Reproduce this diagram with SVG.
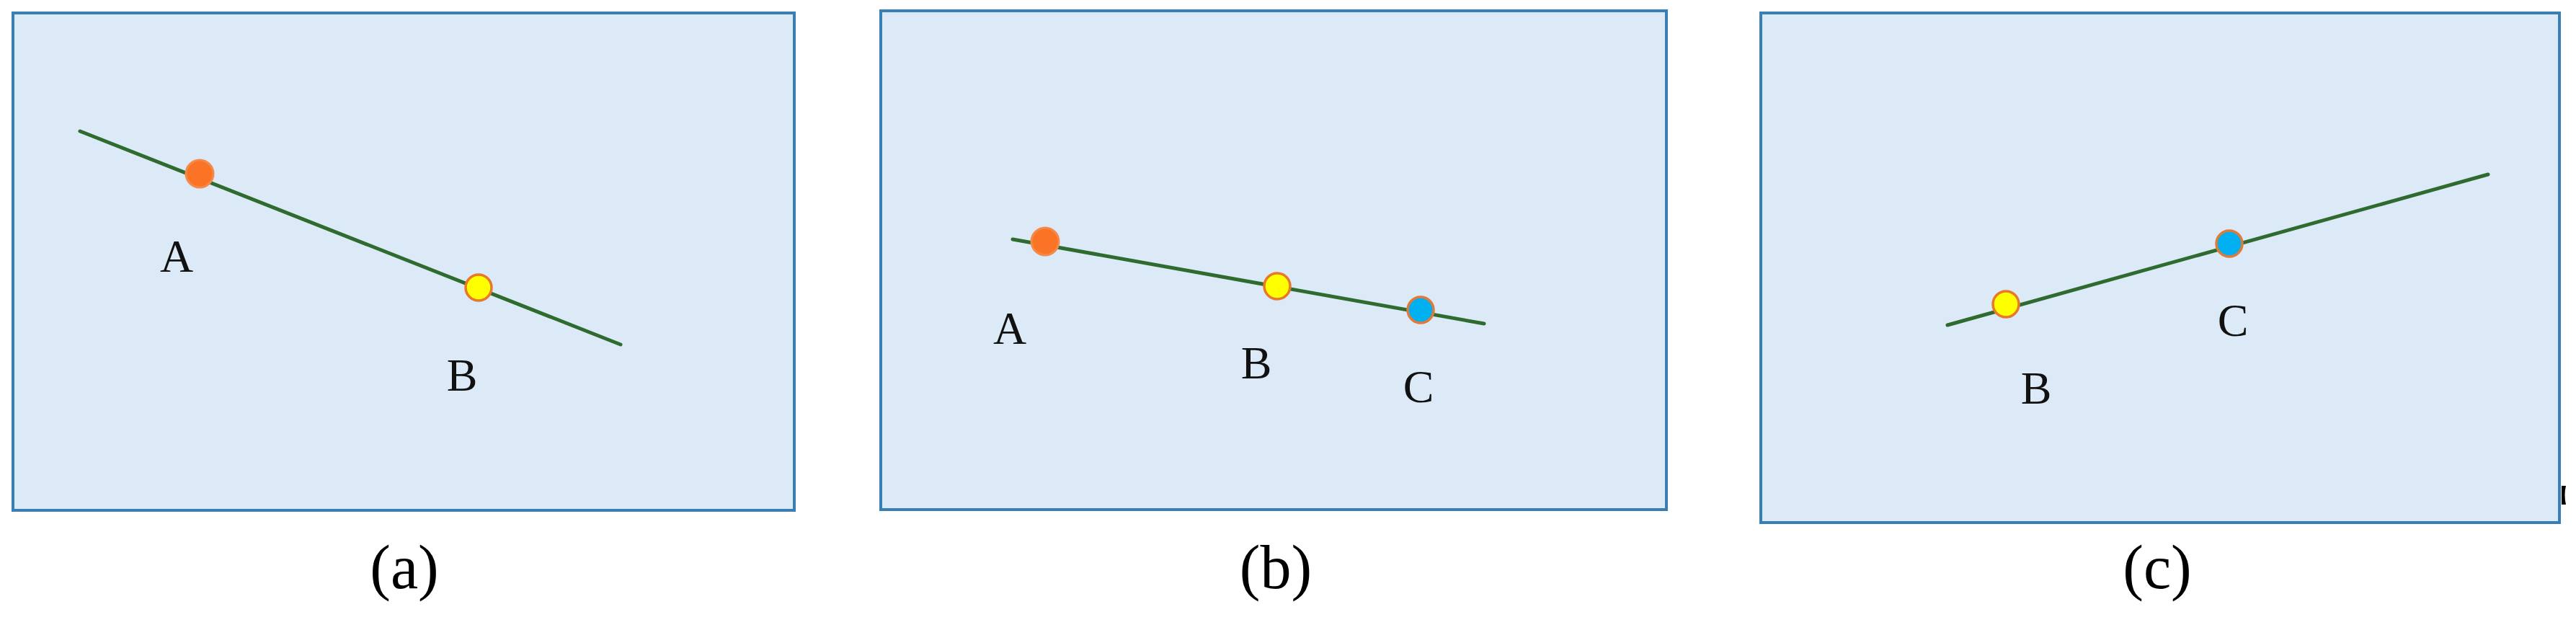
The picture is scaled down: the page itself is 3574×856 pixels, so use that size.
<svg xmlns="http://www.w3.org/2000/svg" width="3574" height="856" viewBox="0 0 3574 856">
<style>
.panel{fill:#dbeaf6;stroke:#3a7fb3;stroke-width:4}
.ln{stroke:#2f6a2f;stroke-width:5;stroke-linecap:round;fill:none}
.pA{fill:#fb7426;stroke:#f5894a;stroke-width:3}
.pB{fill:#ffff00;stroke:#e8782a;stroke-width:3.5}
.pC{fill:#00b0f0;stroke:#e07a3a;stroke-width:3.5}
.lbl{font-family:"Liberation Serif",serif;font-size:64px;fill:#111;text-anchor:middle}
.cap{font-family:"Liberation Serif",serif;font-size:86px;fill:#000;text-anchor:middle}
</style>
<rect width="3574" height="856" fill="#ffffff"/>
<g id="panel-a">
<rect class="panel" x="18" y="18" width="1084" height="690"/>
</g>
<g id="panel-b">
<rect class="panel" x="1222" y="15" width="1090" height="692"/>
</g>
<g id="panel-c">
<rect class="panel" x="2443" y="18" width="1108" height="707"/>
</g>
<g id="connectors">
<line class="ln" x1="111" y1="182" x2="861" y2="478"/>
<line class="ln" x1="1405" y1="332" x2="2059" y2="449"/>
<line class="ln" x1="2702" y1="451" x2="3452" y2="242"/>
</g>
<g id="a-A"><circle class="pA" cx="277" cy="241" r="19"/><text class="lbl" x="245" y="377">A</text></g>
<g id="a-B"><circle class="pB" cx="664" cy="399" r="18"/><text class="lbl" x="641" y="542">B</text></g>
<g id="b-A"><circle class="pA" cx="1450" cy="335" r="19"/><text class="lbl" x="1401" y="477">A</text></g>
<g id="b-B"><circle class="pB" cx="1772" cy="397" r="18"/><text class="lbl" x="1743" y="525">B</text></g>
<g id="b-C"><circle class="pC" cx="1971" cy="430" r="18"/><text class="lbl" x="1968" y="558">C</text></g>
<g id="c-B"><circle class="pB" cx="2783" cy="422" r="18"/><text class="lbl" x="2825" y="560">B</text></g>
<g id="c-C"><circle class="pC" cx="3093" cy="338" r="18"/><text class="lbl" x="3098" y="466">C</text></g>
<g id="captions">
<text class="cap" x="561" y="816">(a)</text>
<text class="cap" x="1770" y="816">(b)</text>
<text class="cap" x="2993" y="816">(c)</text>
</g>
<path d="M3554,674 L3560,674 Q3557,687 3560,700 L3554,700 Z" fill="#000"/>
</svg>
